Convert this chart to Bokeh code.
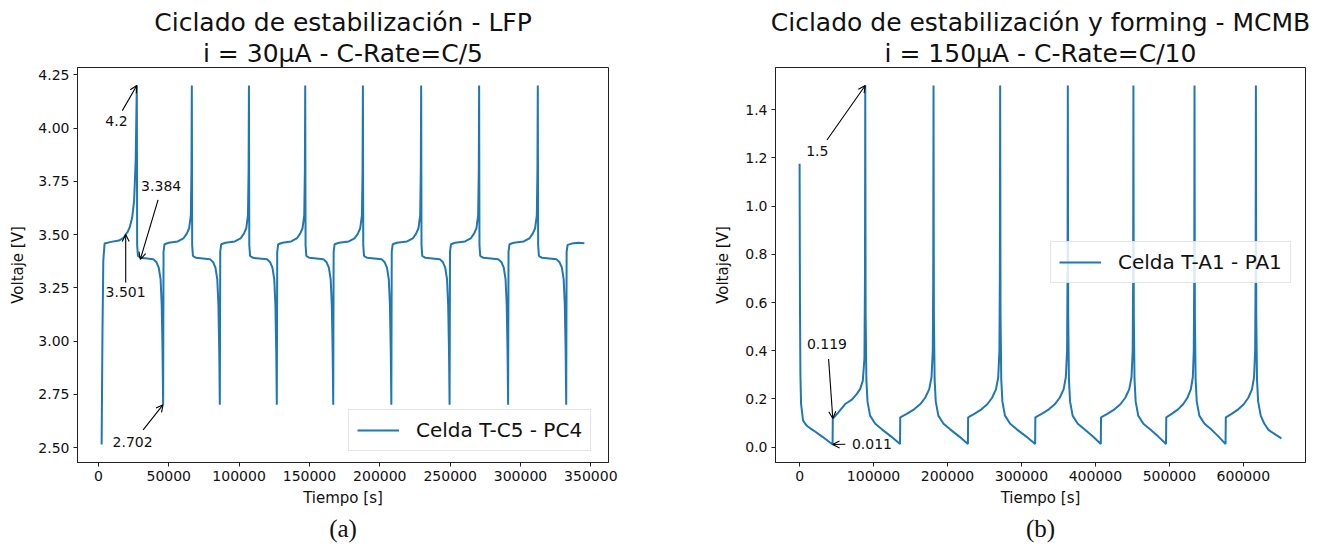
from bokeh.plotting import figure
from bokeh.models import ColumnDataSource, Range1d, FixedTicker, Arrow, OpenHead, NumeralTickFormatter, Title
from bokeh.layouts import row
from bokeh.embed import file_html
from bokeh.resources import INLINE
from bokeh.core.properties import value

# ---------------- Panel (a): LFP ----------------
lfp_t = [
    2300, 2900, 3500, 4400, 9000, 14600, 18100, 19400, 20700, 22300, 24000, 25400, 26500, 27300,
    27550, 28100, 30300, 39000, 41300, 42900, 44200, 45000, 45600, 46000,
    46300, 47000, 50000, 56400, 60400, 62800, 64500, 65700, 66150, 66400,
    66650, 67200, 69400, 79300, 81600, 83200, 84500, 85300, 85900, 86300,
    86600, 87300, 90300, 97000, 101000, 103400, 105100, 106300, 106750, 107000,
    107250, 107800, 110000, 119800, 122100, 123700, 125000, 125800, 126400, 126800,
    127100, 127800, 130800, 137000, 141000, 143400, 145100, 146300, 146750, 147000,
    147250, 147800, 150000, 159900, 162200, 163800, 165100, 165900, 166500, 166900,
    167200, 167900, 170900, 178000, 182000, 184400, 186100, 187300, 187750, 188000,
    188250, 188800, 191000, 201200, 203500, 205100, 206400, 207200, 207800, 208200,
    208500, 209200, 212200, 219400, 223400, 225800, 227500, 228700, 229150, 229400,
    229650, 230200, 232400, 242600, 244900, 246500, 247800, 248600, 249200, 249600,
    249900, 250600, 253600, 260600, 264600, 267000, 268700, 269900, 270350, 270600,
    270850, 271400, 273600, 284200, 286500, 288100, 289400, 290200, 290800, 291200,
    291500, 292200, 295200, 302300, 306300, 308700, 310400, 311600, 312050, 312300,
    312550, 313100, 315300, 325500, 327800, 329400, 330700, 331500, 332100, 332500,
    332800, 333500, 336500, 341000, 345400,
]
lfp_v = [
    2.515, 3.05, 3.38, 3.458, 3.466, 3.472, 3.486, 3.501, 3.512, 3.535, 3.58, 3.66, 3.85, 4.20,
    3.45, 3.400, 3.391, 3.385, 3.370, 3.345, 3.29, 3.17, 2.95, 2.702,
    3.42, 3.455, 3.462, 3.468, 3.482, 3.505, 3.53, 3.59, 3.80, 4.20,
    3.45, 3.400, 3.391, 3.385, 3.370, 3.345, 3.29, 3.17, 2.95, 2.702,
    3.42, 3.455, 3.462, 3.468, 3.482, 3.505, 3.53, 3.59, 3.80, 4.20,
    3.45, 3.400, 3.391, 3.385, 3.370, 3.345, 3.29, 3.17, 2.95, 2.702,
    3.42, 3.455, 3.462, 3.468, 3.482, 3.505, 3.53, 3.59, 3.80, 4.20,
    3.45, 3.400, 3.391, 3.385, 3.370, 3.345, 3.29, 3.17, 2.95, 2.702,
    3.42, 3.455, 3.462, 3.468, 3.482, 3.505, 3.53, 3.59, 3.80, 4.20,
    3.45, 3.400, 3.391, 3.385, 3.370, 3.345, 3.29, 3.17, 2.95, 2.702,
    3.42, 3.455, 3.462, 3.468, 3.482, 3.505, 3.53, 3.59, 3.80, 4.20,
    3.45, 3.400, 3.391, 3.385, 3.370, 3.345, 3.29, 3.17, 2.95, 2.702,
    3.42, 3.455, 3.462, 3.468, 3.482, 3.505, 3.53, 3.59, 3.80, 4.20,
    3.45, 3.400, 3.391, 3.385, 3.370, 3.345, 3.29, 3.17, 2.95, 2.702,
    3.42, 3.455, 3.462, 3.468, 3.482, 3.505, 3.53, 3.59, 3.80, 4.20,
    3.45, 3.400, 3.391, 3.385, 3.370, 3.345, 3.29, 3.17, 2.95, 2.702,
    3.42, 3.452, 3.458, 3.462, 3.460,
]
lfp_xticks = [0, 50000, 100000, 150000, 200000, 250000, 300000, 350000]
lfp_yticks = [2.50, 2.75, 3.00, 3.25, 3.50, 3.75, 4.00, 4.25]
lfp_ann_text = ["4.2", "3.501", "3.384", "2.702"]
lfp_ann_x = [27300, 19400, 29800, 46000]
lfp_ann_y = [4.2, 3.501, 3.384, 2.702]
lfp_txt_x = [12800, 19350, 44600, 24300]
lfp_txt_y = [4.031, 3.230, 3.730, 2.526]
lfp_arr_x0 = [17000, 19400, 42400, 31800]
lfp_arr_y0 = [4.082, 3.275, 3.663, 2.584]

# ---------------- Panel (b): MCMB ----------------
mcmb_t = [
    0, 500, 1100, 2000, 4600, 8000, 11000, 19000, 31000, 44600,
    44900, 52700, 61700, 70700, 77400, 81900, 85500, 87700, 88400, 88800,
    89300, 90300, 91800, 95300, 102300, 111300, 123500, 135800,
    136100, 144900, 154800, 163000, 169800, 175200, 178400, 180100, 180700, 181100,
    181600, 182600, 184100, 187600, 194600, 203600, 215600, 227600,
    227900, 236300, 245900, 253800, 260300, 265500, 268600, 270200, 270800, 271200,
    271700, 272700, 274200, 277700, 284700, 293700, 306100, 318500,
    318800, 327300, 337100, 345000, 351700, 357000, 360000, 361700, 362300, 362700,
    363200, 364200, 365700, 369200, 376200, 385200, 396300, 407300,
    407600, 416100, 425800, 433800, 440400, 445700, 448800, 450400, 451000, 451400,
    451900, 452900, 454400, 457900, 464900, 473900, 484700, 495500,
    495800, 503200, 511700, 518600, 524400, 529000, 531700, 533000, 533600, 534000,
    534500, 535500, 537000, 540500, 547500, 556500, 566300, 576000,
    576300, 584200, 593200, 600600, 606800, 611700, 614500, 616000, 616600, 617000,
    617500, 618500, 620000, 623500, 628500, 634000, 642000, 651500,
]
mcmb_v = [
    1.175, 0.60, 0.30, 0.18, 0.112, 0.095, 0.086, 0.069, 0.043, 0.011,
    0.119, 0.145, 0.179, 0.197, 0.221, 0.241, 0.276, 0.37, 0.70, 1.50,
    0.55, 0.28, 0.19, 0.131, 0.097, 0.074, 0.045, 0.013,
    0.124, 0.138, 0.157, 0.178, 0.205, 0.24, 0.29, 0.40, 0.70, 1.50,
    0.55, 0.28, 0.19, 0.131, 0.097, 0.074, 0.045, 0.013,
    0.124, 0.138, 0.157, 0.178, 0.205, 0.24, 0.29, 0.40, 0.70, 1.50,
    0.55, 0.28, 0.19, 0.131, 0.097, 0.074, 0.045, 0.013,
    0.124, 0.138, 0.157, 0.178, 0.205, 0.24, 0.29, 0.40, 0.70, 1.50,
    0.55, 0.28, 0.19, 0.131, 0.097, 0.074, 0.045, 0.013,
    0.124, 0.138, 0.157, 0.178, 0.205, 0.24, 0.29, 0.40, 0.70, 1.50,
    0.55, 0.28, 0.19, 0.131, 0.097, 0.074, 0.045, 0.013,
    0.124, 0.138, 0.157, 0.178, 0.205, 0.24, 0.29, 0.40, 0.70, 1.50,
    0.55, 0.28, 0.19, 0.131, 0.097, 0.074, 0.045, 0.013,
    0.124, 0.138, 0.157, 0.178, 0.205, 0.24, 0.29, 0.40, 0.70, 1.50,
    0.55, 0.28, 0.19, 0.131, 0.097, 0.072, 0.055, 0.037,
]
mcmb_xticks = [0, 100000, 200000, 300000, 400000, 500000, 600000]
mcmb_yticks = [0.0, 0.2, 0.4, 0.6, 0.8, 1.0, 1.2, 1.4]
mcmb_ann_text = ["1.5", "0.119", "0.011"]
mcmb_ann_x = [88800, 44900, 44600]
mcmb_ann_y = [1.5, 0.119, 0.011]
mcmb_txt_x = [23900, 37000, 97800]
mcmb_txt_y = [1.227, 0.427, 0.015]
mcmb_arr_x0 = [37000, 39200, 61800]
mcmb_arr_y0 = [1.274, 0.366, 0.012]

FONT = "DejaVu Sans"
LINE = "#1f77b4"
DARK = "#222222"


def padded(vals):
    lo, hi = min(vals), max(vals)
    m = 0.05 * (hi - lo)
    return Range1d(lo - m, hi + m)


def make_panel(t, v, xticks, yticks, yfmt, border_left, border_right, legend_label,
               legend_loc, ylab_standoff, ann, titles, caption):
    p = figure(width=666, height=553, output_backend="svg", toolbar_location=None,
               title=None, x_range=padded(t), y_range=padded(v),
               min_border_left=border_left, min_border_right=border_right,
               min_border_top=67, min_border_bottom=91)
    p.background_fill_color = "white"
    p.border_fill_color = "white"
    p.outline_line_color = DARK
    p.outline_line_width = 1
    p.xgrid.visible = False
    p.ygrid.visible = False

    p.line(t, v, line_color=LINE, line_width=2.0, legend_label=legend_label)

    p.xaxis.ticker = FixedTicker(ticks=xticks)
    p.yaxis.ticker = FixedTicker(ticks=yticks)
    p.xaxis.formatter = NumeralTickFormatter(format="0")
    p.yaxis.formatter = NumeralTickFormatter(format=yfmt)
    for ax in (p.xaxis[0], p.yaxis[0]):
        ax.axis_line_color = DARK
        ax.major_tick_line_color = DARK
        ax.major_tick_in = 0
        ax.major_tick_out = 4
        ax.minor_tick_in = 0
        ax.minor_tick_out = 0
        ax.major_label_text_font = FONT
        ax.major_label_text_font_size = "14px"
        ax.major_label_text_color = "#111111"
        ax.major_label_standoff = 4
        ax.axis_label_text_font = FONT
        ax.axis_label_text_font_size = "15px"
        ax.axis_label_text_font_style = "normal"
        ax.axis_label_text_color = "#111111"
    p.xaxis.axis_label = "Tiempo [s]"
    p.yaxis.axis_label = "Voltaje [V]"
    p.xaxis.axis_label_standoff = 5
    p.yaxis.axis_label_standoff = ylab_standoff

    lg = p.legend[0]
    lg.location = legend_loc
    lg.label_text_font = FONT
    lg.label_text_font_size = "20px"
    lg.label_text_color = "#111111"
    lg.glyph_width = 42
    lg.glyph_height = 20
    lg.label_height = 20
    lg.label_standoff = 17
    lg.padding = 8
    lg.margin = 0
    lg.spacing = 0
    lg.border_line_color = "#cccccc"
    lg.border_line_width = 1
    lg.background_fill_alpha = 0.85

    ann_text, ax_, ay_, tx, ty, x0, y0 = ann
    src = ColumnDataSource(dict(x=tx, y=ty, text=ann_text))
    p.text(x="x", y="y", text="text", source=src, text_font=value(FONT),
           text_font_size=value("14px"), text_align="center", text_baseline="middle",
           text_color="#111111")
    asrc = ColumnDataSource(dict(x0=x0, y0=y0, x1=ax_, y1=ay_))
    p.add_layout(Arrow(source=asrc, x_start="x0", y_start="y0", x_end="x1", y_end="y1",
                       line_color="black", line_width=1.1,
                       end=OpenHead(size=7, line_width=1.1, line_color="black")))

    # titles: subtitle first (closest to the frame), then the main title above it
    (t1, off1), (t2, off2) = titles
    p.add_layout(Title(text=t2, align="center", offset=off2, standoff=0,
                       text_font=FONT, text_font_size="25px", text_font_style="normal",
                       text_color="#111111"), "above")
    p.add_layout(Title(text=t1, align="center", offset=off1, standoff=0,
                       text_font=FONT, text_font_size="25px", text_font_style="normal",
                       text_color="#111111"), "above")
    ctext, coff = caption
    p.add_layout(Title(text=ctext, align="center", offset=coff, standoff=6,
                       text_font="Liberation Serif", text_font_size="25px",
                       text_font_style="normal", text_color="#111111"), "below")
    return p


p1 = make_panel(
    lfp_t, lfp_v, lfp_xticks, lfp_yticks, "0.00", 77, 58, "Celda T-C5 - PC4", (271, 11), 8,
    (lfp_ann_text, lfp_ann_x, lfp_ann_y, lfp_txt_x, lfp_txt_y, lfp_arr_x0, lfp_arr_y0),
    [("Ciclado de estabilización - LFP", -12), ("i = 30µA - C-Rate=C/5", -2)], ("(a)", 4))

p2 = make_panel(
    mcmb_t, mcmb_v, mcmb_xticks, mcmb_yticks, "0.0", 109, 27, "Celda T-A1 - PA1", (275, 179), 10,
    (mcmb_ann_text, mcmb_ann_x, mcmb_ann_y, mcmb_txt_x, mcmb_txt_y, mcmb_arr_x0, mcmb_arr_y0),
    [("Ciclado de estabilización y forming - MCMB", -16), ("i = 150µA - C-Rate=C/10", -2)], ("(b)", 6))

layout = row(p1, p2)
open("out.html", "w").write(file_html(layout, INLINE))
